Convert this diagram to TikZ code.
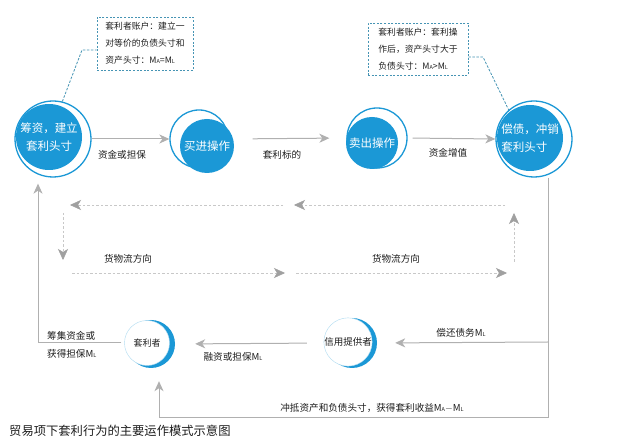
\documentclass[tikz,border=0pt]{standalone}
\usepackage{fontspec}
\setmainfont{Noto Sans CJK SC}
\usetikzlibrary{arrows.meta}
\definecolor{azul}{RGB}{27,152,214}
\definecolor{gris}{RGB}{176,176,176}
\definecolor{grisflecha}{RGB}{160,160,160}
\definecolor{grisclaro}{RGB}{200,200,200}
\definecolor{notaborde}{RGB}{70,148,180}
\definecolor{texto}{RGB}{30,30,30}
\newcommand{\msub}[1]{M{\fontsize{5.5}{6}\selectfont #1}}

\begin{document}
\begin{tikzpicture}[x=1pt, y=-1pt,
	disco/.style={circle, fill=azul, text=white, inner sep=0pt, align=center, font=\fontsize{11.5}{18}\selectfont},
	anillo/.style={circle, draw=azul, line width=1.3pt, inner sep=0pt},
	blanco/.style={circle, fill=white, draw=azul!35, line width=0.4pt, inner sep=0pt, text=texto, font=\fontsize{9.5}{11}\selectfont},
	nota/.style={draw=notaborde, dash pattern=on 2pt off 1.6pt, line width=0.8pt, align=left, text=texto, inner xsep=7pt, font=\fontsize{8.8}{17}\selectfont},
	enlace/.style={draw=notaborde, dash pattern=on 2.5pt off 1.5pt, line width=0.8pt},
	flujo/.style={draw=gris, line width=1pt, -{Stealth[length=10pt, width=9pt, inset=3pt]}},
	linea/.style={draw=gris, line width=1pt},
	mercancia/.style={draw=grisclaro, dash pattern=on 2.5pt off 2pt, line width=0.9pt, -{Stealth[length=11pt, width=10pt, inset=3pt, color=grisflecha, fill=grisflecha, line width=0.5pt]}},
	etiqueta/.style={text=texto, inner sep=0pt, font=\fontsize{9.6}{12}\selectfont}]
	\useasboundingbox[fill=white] (0,0) rectangle (625,446);

	% Circulos de arriba
		\node[anillo, minimum size=76pt] (fundring) at (53,139) {};
		\node[disco, minimum size=66pt] (fund) at (49,137) {筹资，建立\\套利头寸};

		\node[anillo, minimum size=58pt] (buyring) at (199,139) {};
		\node[disco, minimum size=54pt] (buy) at (207,146) {买进操作};

		\node[anillo, minimum size=60pt] (sellring) at (377,138) {};
		\node[disco, minimum size=52pt] (sell) at (372,143) {卖出操作};

		\node[anillo, minimum size=76pt] (repayring) at (534,139) {};
		\node[disco, minimum size=66pt, align=left] (repay) at (530,138) {偿债，冲销\\套利头寸};

	% Circulos de abajo
		\node[circle, fill=azul, minimum size=48pt, inner sep=0pt] (arbback) at (151,344) {};
		\node[blanco, minimum size=45pt, font=\fontsize{9}{11}\selectfont] (arb) at (147,343) {套利者};

		\node[circle, fill=azul, minimum size=50pt, inner sep=0pt] (creditback) at (352,343) {};
		\node[blanco, minimum size=46pt] (credit) at (348,342) {信用提供者};

	% Notas
		\node[nota, minimum width=96pt, minimum height=53pt] (note1) at (145,43.5)
			{套利者账户：建立一\\对等价的负债头寸和\\资产头寸：\msub{A}=\msub{L}};
		\node[nota, minimum width=100pt, minimum height=52pt] (note2) at (418,49)
			{套利者账户：套利操\\作后，资产头寸大于\\负债头寸：\msub{A}>\msub{L}};
		\coordinate (n1bend) at (82,50);
		\coordinate (n2bend) at (483,57);
		\draw[enlace] (fundring.76) -- (n1bend) -- (n1bend -| note1.west);
		\draw[enlace] (note2.east |- n2bend) -- (n2bend) -- (repayring.131);

	% Flechas de fondos
		\draw[flujo] (fundring.east) -- (buyring.west);
		\draw[flujo, shorten <=24pt, shorten >=17pt] (buyring.east) -- (sellring.west);
		\draw[flujo, shorten <=5pt] (sellring.east) -- (repayring.west);
		\coordinate (botright) at (548,418);
		\draw[linea] (repayring.south -| botright) -- (botright);
		\draw[flujo, shorten >=18pt] (credit.east -| botright) -- (creditback.east);
		\draw[flujo, shorten <=20pt, shorten >=20pt] (creditback.west) -- (arbback.east);
		\draw[flujo, shorten <=3pt, shorten >=6pt] (arb.west) -| ([xshift=-15pt]fundring.south);
		\draw[flujo, shorten >=13pt] (botright) -| ([xshift=8pt]arbback.south);

	% Etiquetas
		\node[etiqueta] (lb1) at (122,155) {资金或担保};
		\node[etiqueta] (lb2) at (282,155) {套利标的};
		\node[etiqueta] (lb3) at (448,153) {资金增值};
		\node[etiqueta] (lb4) at (461,333) {偿还债务\msub{L}};
		\node[etiqueta] (lb5) at (233,357) {融资或担保\msub{L}};
		\node[etiqueta, anchor=west, align=left, font=\fontsize{9.6}{18}\selectfont] (lb6) at (47,345) {筹集资金或\\获得担保\msub{L}};
		\node[etiqueta] (lb7) at (372,408) {冲抵资产和负债头寸，获得套利收益\msub{A}$-$\msub{L}};

	% Flujo de mercancia
		\coordinate (g1) at (505,205);
		\coordinate (g2) at (294,205);
		\coordinate (g3) at (283,205);
		\coordinate (g4) at (70,205);
		\coordinate (g5) at (63,213);
		\coordinate (g6) at (63,260);
		\coordinate (g7) at (72,273);
		\coordinate (g8) at (285,273);
		\coordinate (g9) at (296,273);
		\coordinate (g10) at (507,273);
		\coordinate (g11) at (514,262);
		\coordinate (g12) at (514,213);
		\draw[mercancia] (g1) -- (g2);
		\draw[mercancia] (g3) -- (g4);
		\draw[mercancia] (g5) -- (g6);
		\draw[mercancia] (g7) -- (g8);
		\draw[mercancia] (g9) -- (g10);
		\draw[mercancia] (g11) -- (g12);
		\node[etiqueta] (goods1) at (128,259) {货物流方向};
		\node[etiqueta] (goods2) at (396,259) {货物流方向};

	% Titulo
		\node[anchor=west, inner sep=0pt, text=texto, font=\fontsize{12.3}{14}\selectfont] (titulo) at (9,431) {贸易项下套利行为的主要运作模式示意图};
\end{tikzpicture}
\end{document}
